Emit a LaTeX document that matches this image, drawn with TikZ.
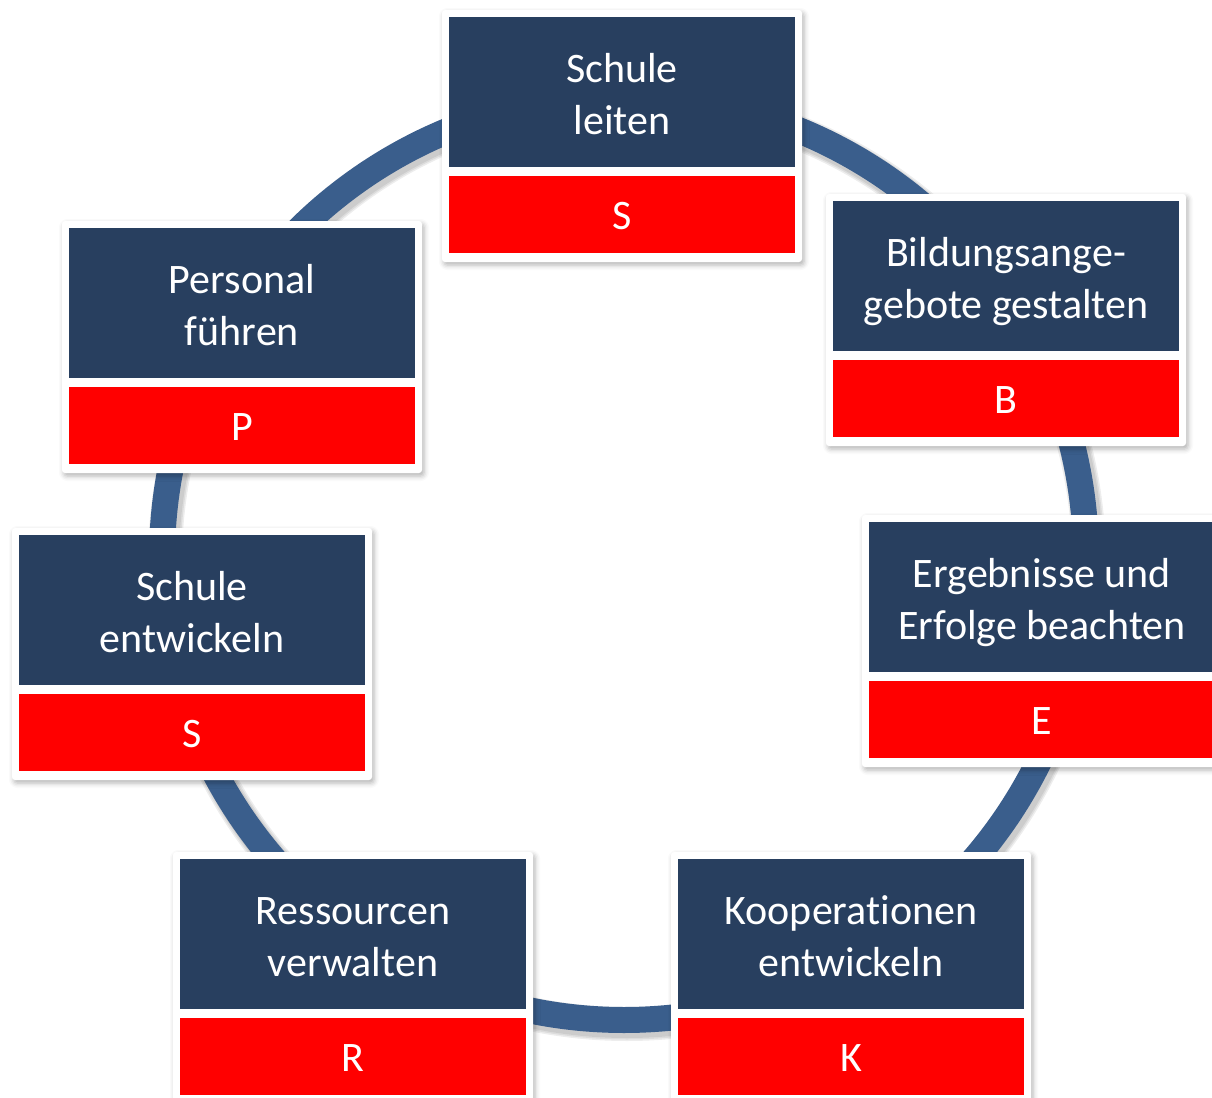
\documentclass[tikz,border=0pt]{standalone}
\usepackage{fontspec}
\setmainfont{Carlito}[Ligatures={NoCommon}]
\usetikzlibrary{shadows.blur}
\definecolor{navy}{HTML}{283F5F}
\definecolor{ringblue}{HTML}{3A5E8C}
\definecolor{kred}{HTML}{FF0000}
\tikzset{
  framebox/.style={fill=white, rounded corners=1.5pt, minimum width=180pt, minimum height=126pt,
    inner sep=0pt, outer sep=0pt,
    blur shadow={shadow xshift=1pt, shadow yshift=-1.5pt, shadow blur radius=2.5pt, shadow opacity=30}},
  topbox/.style={fill=navy, minimum width=173pt, minimum height=75pt, inner sep=0pt, outer sep=0pt},
  letterbox/.style={fill=kred, minimum width=173pt, minimum height=38.5pt, inner sep=0pt, outer sep=0pt},
  boxtext/.style={text=white, font=\fontsize{21}{26}\selectfont, inner sep=0pt},
  ringline/.style={draw=ringblue, line width=13pt},
  ringshadow/.style={draw=black, opacity=.07},
}
\newcommand\kbox[6]{%
  \node[framebox, anchor=north west] (#1f) at (#2-7,#3-7) {};
  \node[topbox, anchor=north west] (#1n) at (#2,#3) {};
  \node[letterbox, anchor=north west] (#1r) at (#2,#3+159) {};
  \node[boxtext, anchor=base] (#1a) at (#2+173,#3+65) {#4};
  \node[boxtext, anchor=base] (#1b) at (#2+173,#3+117) {#5};
  \node[boxtext, anchor=base] (#1c) at (#2+173,#3+212) {#6};
}
\begin{document}
\begin{tikzpicture}[x=0.5pt,y=-0.5pt]
\useasboundingbox (0,0) rectangle (1212,1098);
\clip (0,0) rectangle (1212,1098);
\coordinate (c) at (624,558);
\coordinate (cs) at (627,562);
\foreach \w in {14,15.5,17}{
  \draw[ringshadow, line width=\w pt] (cs) circle[radius=462];
}
\draw[ringline] (c) circle[radius=462];
\kbox{sl}{449}{17}{Schule}{leiten}{S}
\kbox{bg}{833}{201}{Bildungsange-}{gebote gestalten}{B}
\kbox{eb}{869}{522}{Ergebnisse und}{Erfolge beachten}{E}
\kbox{ke}{678}{859}{Kooperat\kern0pt ionen}{entwickeln}{K}
\kbox{rv}{180}{859}{Ressourcen}{verwalten}{R}
\kbox{se}{19}{535}{Schule}{entwickeln}{S}
\kbox{pf}{69}{228}{Personal}{führen}{P}
\end{tikzpicture}
\end{document}
